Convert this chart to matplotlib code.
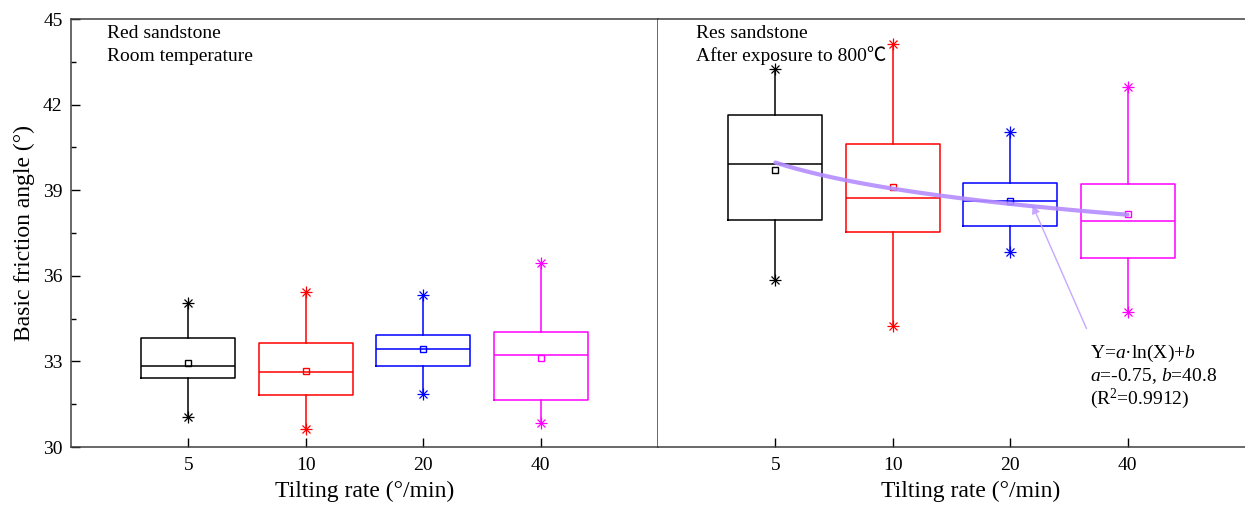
import matplotlib
matplotlib.use('Agg')
from matplotlib import pyplot as plt
import numpy as np

plt.rcParams['font.family'] = ['Liberation Serif', 'Noto Sans CJK SC', 'DejaVu Sans']
plt.rcParams['mathtext.fontset'] = 'custom'
plt.rcParams['mathtext.rm'] = 'Liberation Serif'
plt.rcParams['mathtext.it'] = 'Liberation Serif:italic'

# tilting rates (deg/min)
rate_labels = ['5', '10', '20', '40']
positions = [1, 2, 3, 4]
box_colors = ['#000000', '#ff0000', '#0000ff', '#ff00ff']

# room temperature
room_max = [35.04, 35.42, 35.33, 36.44]
room_q3 = [33.83, 33.63, 33.93, 34.03]
room_med = [32.84, 32.63, 33.43, 33.24]
room_mean = [32.94, 32.66, 33.42, 33.11]
room_q1 = [32.43, 31.82, 32.83, 31.64]
room_min = [31.04, 30.63, 31.85, 30.84]

# after 800 C
hot_max = [43.24, 44.14, 41.04, 42.63]
hot_q3 = [41.63, 40.63, 39.24, 39.23]
hot_med = [39.93, 38.74, 38.63, 37.93]
hot_mean = [39.71, 39.11, 38.62, 38.16]
hot_q1 = [37.95, 37.54, 37.74, 36.64]
hot_min = [35.84, 34.24, 36.83, 34.74]

# fitted log curve as drawn (over box index)
fit_a = -1.32
fit_b = 39.97

spine_col = '#404040'
txt_size = 14


def draw_boxes(ax, mx, q3, med, mean, q1, mn):
    for i in range(len(positions)):
        st = [dict(med=med[i], q1=q1[i], q3=q3[i], whislo=mn[i], whishi=mx[i],
                   mean=mean[i], fliers=[])]
        c = box_colors[i]
        ax.bxp(st, positions=[positions[i]], widths=0.8, showcaps=False,
               showmeans=True, showfliers=False, manage_ticks=False,
               boxprops=dict(color=c, linewidth=1.1),
               whiskerprops=dict(color=c, linewidth=1.1),
               medianprops=dict(color=c, linewidth=1.1),
               meanprops=dict(marker='s', markerfacecolor='none',
                              markeredgecolor=c, markersize=5, markeredgewidth=1))
        for m, s in (('+', 8), ('x', 5.5)):
            ax.plot([positions[i], positions[i]], [mx[i], mn[i]], linestyle='none',
                    marker=m, markersize=s, color=c, markeredgewidth=0.9)


fig = plt.figure(figsize=(12.45, 5.09), dpi=100)
ax1 = fig.add_axes([71 / 1245, 62 / 509, 587 / 1245, 428 / 509])
ax2 = fig.add_axes([658 / 1245, 62 / 509, 626 / 1245, 428 / 509])

draw_boxes(ax1, room_max, room_q3, room_med, room_mean, room_q1, room_min)
draw_boxes(ax2, hot_max, hot_q3, hot_med, hot_mean, hot_q1, hot_min)

xf = np.linspace(positions[0], positions[-1], 100)
ax2.plot(xf, fit_a * np.log(xf) + fit_b, color='#b48cff', linewidth=3, alpha=0.9,
         solid_capstyle='round', zorder=5)

for ax, xmax in ((ax1, 5), (ax2, 626 / 117.4)):
    ax.set_xlim(0, xmax)
    ax.set_ylim(30, 45)
    ax.set_xticks(positions)
    ax.set_xticklabels(rate_labels)
    ax.tick_params(axis='x', direction='in', length=6.5, width=1, pad=7,
                   labelsize=14, top=False, colors='black')
    ax.set_xlabel('Tilting rate (°/min)', fontsize=17, labelpad=5)
    for s in ax.spines.values():
        s.set_color(spine_col)
        s.set_linewidth(1.1)

ax1.set_yticks([30, 33, 36, 39, 42, 45])
ax1.set_yticks(np.arange(31.5, 45, 3), minor=True)
ax1.tick_params(axis='y', which='major', direction='in', length=6.5, width=1,
                pad=6, labelsize=14)
ax1.tick_params(axis='y', which='minor', direction='in', length=3.5, width=1)
ax1.set_ylabel('Basic friction angle (°)', fontsize=17, labelpad=6)

ax2.set_yticks([])
ax2.spines['left'].set_visible(False)
ax2.spines['right'].set_visible(False)

ax1.text(0.31, 44.33, 'Red sandstone', fontsize=txt_size)
ax1.text(0.31, 43.53, 'Room temperature', fontsize=txt_size)
ax2.text(0.32, 44.33, 'Res sandstone', fontsize=txt_size)
ax2.text(0.32, 43.53, 'After exposure to 800℃', fontsize=txt_size)

ax2.annotate('', xy=(3.19, 38.47), xytext=(3.65, 34.15),
             arrowprops=dict(arrowstyle='-|>', color='#c8a8ff', lw=1,
                             mutation_scale=12, shrinkA=0, shrinkB=0))
ax2.text(3.68, 33.11, 'Y=$a$·ln(X)+$b$', fontsize=txt_size)
ax2.text(3.68, 32.32, '$a$=-0.75, $b$=40.8', fontsize=txt_size)
ax2.text(3.68, 31.51, '(R$^2$=0.9912)', fontsize=txt_size)

fig.savefig('out.png', dpi=100)
